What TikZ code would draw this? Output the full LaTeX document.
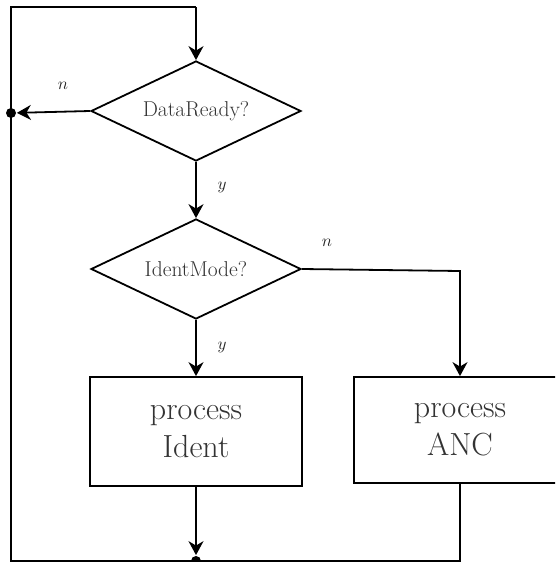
\documentclass[tikz,border=0pt]{standalone}
\usetikzlibrary{shapes.geometric,arrows.meta}

\begin{document}
\begin{tikzpicture}[x=1pt,y=-1pt,
  line width=1.8pt,
  flow/.style={-{Stealth[length=14pt,width=15pt,inset=4.5pt]}},
  decision/.style={draw,diamond,shape aspect=2.1,inner sep=0pt,
    minimum width=210pt,minimum height=100pt,text=black!80,
    font=\fontsize{21.5}{24}\selectfont},
  procbox/.style={draw,rectangle,inner sep=0pt,text=black!80,align=center,
    font=\fontsize{32}{38}\selectfont},
  lbl/.style={text=black!85},
  junction/.style={circle,fill=black,inner sep=0pt,minimum size=10pt}]

\useasboundingbox (0,0) rectangle (555,562);
\clip (0,0) rectangle (555,562);

% decisions
\node[decision] (ready) at (196,111) {DataReady?};
\node[decision] (mode)  at (196,269) {IdentMode?};

% processing blocks
\node[procbox,minimum width=212pt,minimum height=109pt] (ident) at (196,431.5) {process\\Ident};
\node[procbox,minimum width=212pt,minimum height=106pt] (anc)   at (460,430)   {process\\ANC};

% loop corners and junctions
\coordinate (topL) at (11,7);
\coordinate (topM) at (196,7);
\coordinate (botL) at (11,561);
\coordinate (botR) at (460,561);
\coordinate (turn) at (460,271);
\node[junction] (jleft) at (11,113) {};
\node[junction] (jbot)  at (196,561) {};

% connectors
\draw[flow] (topM) -- (ready.north);
\draw[flow] (ready.west) -- (jleft);
\draw[flow] (ready.south) -- (mode.north);
\draw[flow] (mode.south) -- (ident.north);
\draw[flow] (mode.east) -- (turn) -- (anc.north);
\draw[flow] (ident.south) -- (jbot);
\draw (anc.south) -- (botR) -- (botL) -- (topL) -- (topM);

% branch labels
\node[lbl] (n1) at (63,86)   {\scalebox{1.7}{$n$}};
\node[lbl] (y1) at (222,187) {\scalebox{1.7}{$y$}};
\node[lbl] (n2) at (327,243) {\scalebox{1.7}{$n$}};
\node[lbl] (y2) at (222,347) {\scalebox{1.7}{$y$}};
\end{tikzpicture}
\end{document}
